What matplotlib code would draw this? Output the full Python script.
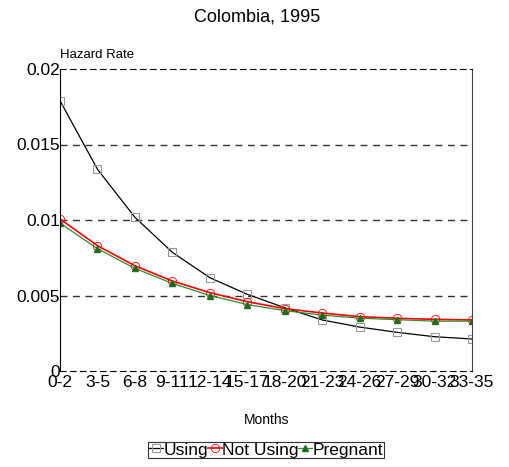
import matplotlib
matplotlib.use("Agg")
import matplotlib.pyplot as plt
from matplotlib import font_manager

months = ["0-2", "3-5", "6-8", "9-11", "12-14", "15-17", "18-20", "21-23",
          "24-26", "27-29", "30-32", "33-35"]
using = [0.0179, 0.01336, 0.01018, 0.00786, 0.00618, 0.00508, 0.00419,
         0.00338, 0.00291, 0.00256, 0.00227, 0.00212]
not_using = [0.01007, 0.0083, 0.00697, 0.00596, 0.00519, 0.00459, 0.00413,
             0.00384, 0.0036, 0.00349, 0.00342, 0.00338]
pregnant = [0.0098, 0.0081, 0.0068, 0.0058, 0.0050, 0.0044, 0.0040,
            0.0037, 0.0035, 0.0034, 0.0033, 0.0033]

names = {f.name for f in font_manager.fontManager.ttflist}
base = ["Liberation Sans", "DejaVu Sans"]
narrow = ["Liberation Sans Narrow"] + base if "Liberation Sans Narrow" in names else base
plt.rcParams['font.family'] = base

fig = plt.figure(figsize=(5.09, 4.67), dpi=100)
ax = fig.add_axes([60/509, 1-371/467, 412/509, 302/467])
x = list(range(len(months)))

ax.plot(x, using, color="black", lw=0.9, marker="s", ms=6, mfc="none",
        mec="#999999", mew=0.8, label="Using")
ax.plot(x, not_using, color="red", lw=1.2, marker="o", ms=6, mfc="none",
        mec="red", mew=0.6, label="Not Using")
ax.plot(x, pregnant, color="#2e8b2e", lw=0.9, marker="^", ms=5,
        mfc="#1f6b1f", mec="#1f6b1f", label="Pregnant")

ax.set_xlim(0, len(months)-1)
ax.set_ylim(0, 0.02)
ax.set_yticks([0, 0.005, 0.01, 0.015, 0.02])
ax.set_yticklabels(["0", "0.005", "0.01", "0.015", "0.02"], fontsize=12.5)
ax.set_xticks(x)
ax.set_xticklabels(months, fontsize=12.5)
ax.tick_params(axis="y", length=0, pad=0)
ax.tick_params(axis="x", length=0, pad=3)
for yv in [0.005, 0.01, 0.015]:
    ax.axhline(yv, color="#333333", lw=1, ls=(0, (5, 4)), zorder=0)
ax.spines['top'].set_linestyle((0, (5, 4)))
ax.spines['bottom'].set_linestyle((0, (5, 4)))
ax.spines['right'].set_color("#444444")

fig.text(257/509, 1-17/467, "Colombia, 1995", ha="center", va="center", fontsize=13)
fig.text(60/509, 1-55/467, "Hazard Rate", ha="left", va="center", fontsize=9.5,
         family=narrow)
fig.text(267/509, 1-420/467, "Months", ha="center", va="center", fontsize=10,
         family=narrow)

leg = fig.legend(loc="center", bbox_to_anchor=(266/509, 1-450/467), ncol=3,
                 fontsize=12.5, frameon=True, fancybox=False, edgecolor="black",
                 handlelength=0.8, handletextpad=0.0, columnspacing=0.0,
                 borderpad=0.05, borderaxespad=0)
leg.get_frame().set_linewidth(0.8)

fig.savefig("out.png", dpi=100)
